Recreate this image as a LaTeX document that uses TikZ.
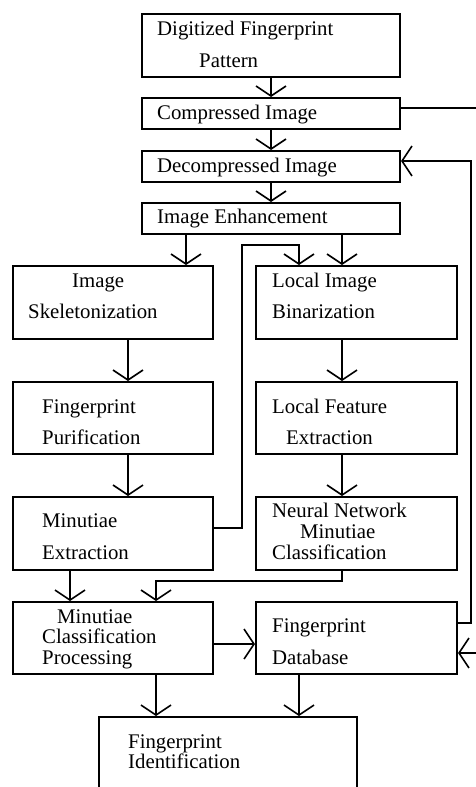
\documentclass[tikz,border=0pt]{standalone}
\usepackage{fontspec}
\setmainfont{Liberation Serif}
\usetikzlibrary{arrows.meta}

\begin{document}
\begin{tikzpicture}
[x=1pt,y=-1pt,>={Straight Barb[length=10pt,width=30pt]},
box/.style={draw,line width=2pt,inner sep=0pt},
txt/.style={anchor=base west,inner sep=0pt,font=\fontsize{20.8}{25}\selectfont},
link/.style={line width=1.6pt},]

\useasboundingbox (0,0) rectangle (476,787);

%Drawing boxes
\node (digit) at (271,45.5)[box,minimum width=258,minimum height=63] {};
\node (comp) at (271,113.5)[box,minimum width=258,minimum height=31] {};
\node (decomp) at (271,166.5)[box,minimum width=258,minimum height=31] {};
\node (enh) at (271,218.5)[box,minimum width=258,minimum height=31] {};
\node (skel) at (113,302.5)[box,minimum width=200,minimum height=73] {};
\node (bin) at (356.5,302.5)[box,minimum width=201,minimum height=73] {};
\node (purif) at (113,418)[box,minimum width=200,minimum height=72] {};
\node (feat) at (356.5,418)[box,minimum width=201,minimum height=72] {};
\node (mext) at (113,533.5)[box,minimum width=200,minimum height=73] {};
\node (neural) at (356.5,533.5)[box,minimum width=201,minimum height=73] {};
\node (mclass) at (113,638)[box,minimum width=200,minimum height=72] {};
\node (db) at (356.5,638)[box,minimum width=201,minimum height=72] {};
\node (ident) at (228,777)[box,minimum width=258,minimum height=120] {};

%Labeling boxes
\foreach \x/\y/\t [count=\i] in {157/35/Digitized Fingerprint, 199/67/Pattern,
  157/119/Compressed Image, 157/172/Decompressed Image, 157/223/Image Enhancement,
  72/287/Image, 28/318/Skeletonization, 272/287/Local Image, 272/318/Binarization,
  42/413/Fingerprint, 42/444/Purification, 272/413/Local Feature, 286/444/Extraction,
  42/527/Minutiae, 42/559/Extraction, 272/517/Neural Network, 300/538/Minutiae,
  272/559/Classification, 57/623/Minutiae, 42/643/Classification, 42/664/Processing,
  272/632/Fingerprint, 272/664/Database, 128/748/Fingerprint, 128/768/Identification}
  \node (t\i) at (\x,\y)[txt] {\t};

%Corner points of the long connectors
\coordinate (loopx) at (242,245);
\coordinate (rx) at (471,400);
\coordinate (ox) at (490,400);

%Main column
\draw[link,->] (digit) -- (comp);
\draw[link,->] (comp) -- (decomp);
\draw[link,->] (decomp) -- (enh);
\draw[link,->] ([xshift=-85pt]enh.south) -- ([xshift=73pt]skel.north);
\draw[link,->] ([xshift=71pt]enh.south) -- ([xshift=-14.5pt]bin.north);

%Left and right branches
\draw[link,->] ([xshift=15pt]skel.south) -- ([xshift=15pt]purif.north);
\draw[link,->] ([xshift=15pt]purif.south) -- ([xshift=15pt]mext.north);
\draw[link,->] ([xshift=-14.5pt]bin.south) -- ([xshift=-14.5pt]feat.north);
\draw[link,->] ([xshift=-14.5pt]feat.south) -- ([xshift=-14.5pt]neural.north);
\draw[link,->] ([yshift=5.5pt]mext.east) -| (loopx) -| ([xshift=-57.5pt]bin.north);

%Classification and database
\draw[link,->] ([xshift=-43pt]mext.south) -- ([xshift=-43pt]mclass.north);
\draw[link,->] ([xshift=-14.5pt]neural.south) -- ++(0,10) -| ([xshift=43pt]mclass.north);
\draw[link,->] ([yshift=-6pt]mclass.east) -- ([yshift=-6pt]db.west);
\draw[link,->] ([yshift=15pt]db.east) -| (rx) |- ([yshift=5.5pt]decomp.east);
\draw[link,->] ([yshift=5.5pt]comp.east) -| (ox) |- ([yshift=-15pt]db.east);

%Identification
\draw[link,->] ([xshift=43pt]mclass.south) -- ([xshift=-72pt]ident.north);
\draw[link,->] ([xshift=-57.5pt]db.south) -- ([xshift=71pt]ident.north);

\end{tikzpicture}
\end{document}
